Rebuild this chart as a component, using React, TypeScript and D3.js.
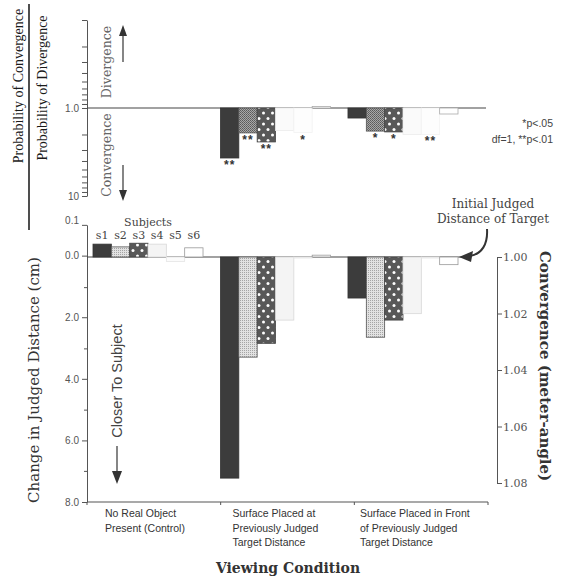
import React, { useEffect, useRef } from "react";
import * as d3 from "d3";

const subjects = ["s1", "s2", "s3", "s4", "s5", "s6"];
const conditions = ["control", "surfaceAt", "surfaceFront"];
const conditionLines = [
  ["No Real Object", "Present (Control)"],
  ["Surface Placed at", "Previously Judged", "Target Distance"],
  ["Surface Placed in Front", "of  Previously Judged", "Target Distance"],
];

// change in judged distance (cm), by condition; positive = closer to subject
const distS1 = [-0.42, 7.22, 1.34];
const distS2 = [-0.33, 3.27, 2.62];
const distS3 = [-0.45, 2.82, 2.06];
const distS4 = [-0.42, 2.06, 1.85];
const distS5 = [0.15, 0.0, 0.0];
const distS6 = [-0.3, -0.06, 0.25];

// probability of convergence / probability of divergence (no value for control)
const ratioS1 = [null, 3.7, 1.3];
const ratioS2 = [null, 1.92, 1.83];
const ratioS3 = [null, 2.43, 1.87];
const ratioS4 = [null, 1.8, 2.0];
const ratioS5 = [null, 1.9, 2.0];
const ratioS6 = [null, 0.96, 1.17];

// significance marks under the ratio bars
const starsS1 = ["", "**", ""];
const starsS2 = ["", "**", "*"];
const starsS3 = ["", "**", "*"];
const starsS4 = ["", "", ""];
const starsS5 = ["", "*", "**"];
const starsS6 = ["", "", ""];

const lowTickValues = [-1, 0, 2, 4, 6, 8];
const lowTickLabels = ["0.1", "0.0", "2.0", "4.0", "6.0", "8.0"];
const lowMinorTicks = [1, 3, 5, 7];
const topTickValues = [1, 10];
const topTickLabels = ["1.0", "10"];
const rightTickValues = [1.0, 1.02, 1.04, 1.06, 1.08];

const dist = [distS1, distS2, distS3, distS4, distS5, distS6];
const ratio = [ratioS1, ratioS2, ratioS3, ratioS4, ratioS5, ratioS6];
const stars = [starsS1, starsS2, starsS3, starsS4, starsS5, starsS6];

const SERIF = "'DejaVu Serif', serif";
const TIMES = "'Liberation Serif', serif";
const SANS = "'Liberation Sans', Arial, sans-serif";

const App = () => {
  const ref = useRef<SVGSVGElement>(null);

  useEffect(() => {
    const svg = d3.select(ref.current);
    svg.selectAll("*").remove();

    const yTop = d3.scaleLog().domain([0.1, 10]).range([20, 196]);
    const yLow = d3.scaleLinear().domain([0, 8]).range([257, 502]);
    const yRight = d3.scaleLinear().domain([1.0, 1.08]).range([257, 483]);
    const xAxisBand = d3.scaleBand().domain(conditions).range([87, 488]);
    const xGroup = d3
      .scaleBand()
      .domain(conditions)
      .range([93, 458])
      .paddingInner(0.137);
    const xSub = d3.scaleBand().domain(subjects).range([0, xGroup.bandwidth()]);

    // patterns
    const defs = svg.append("defs");
    const hatch = defs
      .append("pattern")
      .attr("id", "hatchDark")
      .attr("width", 2)
      .attr("height", 2)
      .attr("patternUnits", "userSpaceOnUse");
    hatch.append("rect").attr("width", 2).attr("height", 2).attr("fill", "#a8a8a8");
    hatch.append("rect").attr("width", 1).attr("height", 1).attr("fill", "#5a5a5a");
    hatch.append("rect").attr("x", 1).attr("y", 1).attr("width", 1).attr("height", 1).attr("fill", "#6a6a6a");

    const stip = defs
      .append("pattern")
      .attr("id", "stipple")
      .attr("width", 2)
      .attr("height", 2)
      .attr("patternUnits", "userSpaceOnUse");
    stip.append("rect").attr("width", 2).attr("height", 2).attr("fill", "#e2e2e2");
    stip.append("rect").attr("width", 1).attr("height", 1).attr("fill", "#a5a5a5");

    const dots = defs
      .append("pattern")
      .attr("id", "dots")
      .attr("width", 9)
      .attr("height", 11)
      .attr("patternUnits", "userSpaceOnUse");
    dots.append("rect").attr("width", 9).attr("height", 11).attr("fill", "#585858");
    dots.append("circle").attr("cx", 2.5).attr("cy", 3).attr("r", 1.5).attr("fill", "#fff");
    dots.append("circle").attr("cx", 7).attr("cy", 8.5).attr("r", 1.5).attr("fill", "#fff");

    const fillTop = ["#3c3c3c", "url(#hatchDark)", "url(#dots)", "#fafafa", "#fdfdfd", "#fff"];
    const fillLow = ["#3c3c3c", "url(#stipple)", "url(#dots)", "#f4f4f4", "#fbfbfb", "#fff"];
    const strokesTop = ["#333", "#555", "#444", "#ececec", "#f2f2f2", "#aaa"];
    const strokesLow = ["#333", "#555", "#444", "#d8d8d8", "#e4e4e4", "#999"];

    const axisColor = "#555";

    // ---- upper panel: log ratio ----
    const topAxis = svg
      .append("g")
      .attr("transform", "translate(87,0)")
      .call(
        d3
          .axisLeft(yTop)
          .tickValues(yTop.ticks())
          .tickSize(5)
          .tickSizeOuter(0)
          .tickFormat((d) => {
            const i = topTickValues.indexOf(+d);
            return i >= 0 ? topTickLabels[i] : "";
          })
      );
    topAxis.select(".domain").attr("stroke", axisColor);
    topAxis.selectAll("line").attr("stroke", axisColor);
    topAxis.selectAll("text").attr("font-family", SANS).attr("font-size", 10).attr("fill", "#555");

    svg
      .append("line")
      .attr("x1", 87)
      .attr("x2", 486)
      .attr("y1", yTop(1))
      .attr("y2", yTop(1))
      .attr("stroke", "#444")
      .attr("stroke-width", 1.2);

    subjects.forEach((s, j) => {
      conditions.forEach((c, i) => {
        const v = ratio[j][i];
        if (v == null) return;
        const x = (xGroup(c) as number) + (xSub(s) as number);
        const y0 = yTop(1);
        const y1 = yTop(v);
        svg
          .append("rect")
          .attr("x", x)
          .attr("y", Math.min(y0, y1))
          .attr("width", xSub.bandwidth())
          .attr("height", Math.max(1.5, Math.abs(y1 - y0)))
          .attr("fill", fillTop[j])
          .attr("stroke", strokesTop[j])
          .attr("stroke-width", 0.8);
        const st = stars[j][i];
        if (st) {
          svg
            .append("text")
            .attr("x", x + xSub.bandwidth() / 2)
            .attr("y", Math.max(y0, y1) + 11)
            .attr("text-anchor", "middle")
            .attr("font-family", SANS)
            .attr("font-weight", "bold")
            .attr("font-size", 12)
            .attr("letter-spacing", 1)
            .attr("fill", "#333")
            .text(st);
        }
      });
    });

    svg
      .append("text")
      .attr("x", 553)
      .attr("y", 127)
      .attr("text-anchor", "end")
      .attr("font-family", SANS)
      .attr("font-size", 10.5)
      .attr("fill", "#444")
      .text("*p<.05");
    svg
      .append("text")
      .attr("x", 553)
      .attr("y", 143)
      .attr("text-anchor", "end")
      .attr("font-family", SANS)
      .attr("font-size", 10.5)
      .attr("fill", "#444")
      .text("df=1, **p<.01");

    // divergence / convergence arrows
    const arrow = (x: number, yFrom: number, yTip: number, w: number, h: number) => {
      const dir = yTip < yFrom ? 1 : -1;
      svg
        .append("line")
        .attr("x1", x)
        .attr("x2", x)
        .attr("y1", yFrom)
        .attr("y2", yTip + dir * h)
        .attr("stroke", "#444")
        .attr("stroke-width", 1.3);
      svg
        .append("path")
        .attr(
          "d",
          `M${x},${yTip} L${x - w / 2},${yTip + dir * h} L${x + w / 2},${yTip + dir * h} Z`
        )
        .attr("fill", "#333");
    };
    arrow(123, 62, 25, 8, 11);
    arrow(123, 165, 201, 8, 11);
    svg
      .append("text")
      .attr("transform", "translate(111,62) rotate(-90)")
      .attr("text-anchor", "middle")
      .attr("font-family", SERIF)
      .attr("font-size", 12.5)
      .attr("fill", "#666")
      .text("Divergence");
    svg
      .append("text")
      .attr("transform", "translate(111,155) rotate(-90)")
      .attr("text-anchor", "middle")
      .attr("font-family", SERIF)
      .attr("font-size", 12.5)
      .attr("fill", "#666")
      .text("Convergence");

    // ratio title (fraction)
    svg
      .append("text")
      .attr("transform", "translate(23,86) rotate(-90)")
      .attr("text-anchor", "middle")
      .attr("font-family", TIMES)
      .attr("font-size", 14)
      .attr("fill", "#1a1a1a")
      .text("Probability of Convergence");
    svg
      .append("line")
      .attr("x1", 29)
      .attr("x2", 29)
      .attr("y1", 4)
      .attr("y2", 230)
      .attr("stroke", "#222")
      .attr("stroke-width", 1.6);
    svg
      .append("text")
      .attr("transform", "translate(47,88) rotate(-90)")
      .attr("text-anchor", "middle")
      .attr("font-family", TIMES)
      .attr("font-size", 14)
      .attr("fill", "#1a1a1a")
      .text("Probability of Divergence");

    // ---- lower panel: change in judged distance ----
    const lowAxis = svg
      .append("g")
      .attr("transform", "translate(87,0)")
      .call(
        d3
          .axisLeft(yLow.copy().domain([-1.0, 8]).range([yLow(-1.05), 502]))
          .tickValues(lowTickValues)
          .tickSize(5)
          .tickSizeOuter(0)
          .tickFormat((d) => lowTickLabels[lowTickValues.indexOf(+d)])
      );
    lowAxis.select(".domain").attr("stroke", axisColor);
    lowAxis.selectAll("line").attr("stroke", axisColor);
    lowAxis.selectAll("text").attr("font-family", SANS).attr("font-size", 10).attr("fill", "#555");
    lowAxis.selectAll(".tick text").filter((d) => +d === -1).attr("dy", "-0.1em");

    svg
      .append("g")
      .selectAll("line")
      .data(lowMinorTicks)
      .enter()
      .append("line")
      .attr("x1", 84)
      .attr("x2", 87)
      .attr("y1", (d) => yLow(d))
      .attr("y2", (d) => yLow(d))
      .attr("stroke", axisColor);

    // bottom x axis
    const bottomY = yLow(8);
    svg
      .append("line")
      .attr("x1", 87)
      .attr("x2", 488)
      .attr("y1", bottomY)
      .attr("y2", bottomY)
      .attr("stroke", axisColor)
      .attr("stroke-width", 1.2);
    const bounds = conditions.map((c) => xAxisBand(c) as number).concat([488]);
    svg
      .append("g")
      .selectAll("line")
      .data(bounds)
      .enter()
      .append("line")
      .attr("x1", (d) => d)
      .attr("x2", (d) => d)
      .attr("y1", bottomY)
      .attr("y2", bottomY + 3)
      .attr("stroke", axisColor);

    conditions.forEach((c, i) => {
      const t = svg
        .append("text")
        .attr("font-family", SANS)
        .attr("font-size", 10.5)
        .attr("fill", "#333");
      conditionLines[i].forEach((line, k) => {
        t.append("tspan")
          .attr("x", (xGroup(c) as number) + 12)
          .attr("y", 517 + k * 14.5)
          .text(line);
      });
    });

    // zero line with arrow
    svg
      .append("line")
      .attr("x1", 87)
      .attr("x2", 466)
      .attr("y1", yLow(0))
      .attr("y2", yLow(0))
      .attr("stroke", "#444")
      .attr("stroke-width", 1.2);

    subjects.forEach((s, j) => {
      conditions.forEach((c, i) => {
        const v = dist[j][i];
        const x = (xGroup(c) as number) + (xSub(s) as number);
        const y0 = yLow(0);
        const y1 = yLow(v);
        svg
          .append("rect")
          .attr("x", x)
          .attr("y", Math.min(y0, y1))
          .attr("width", xSub.bandwidth())
          .attr("height", Math.max(1, Math.abs(y1 - y0)))
          .attr("fill", fillLow[j])
          .attr("stroke", strokesLow[j])
          .attr("stroke-width", 0.8);
      });
    });

    // subject legend over control group
    svg
      .append("text")
      .attr("x", (xGroup("control") as number) + xGroup.bandwidth() / 2)
      .attr("y", 226)
      .attr("text-anchor", "middle")
      .attr("font-family", SERIF)
      .attr("font-size", 11)
      .attr("fill", "#444")
      .text("Subjects");
    svg
      .append("g")
      .selectAll("text")
      .data(subjects)
      .enter()
      .append("text")
      .attr("x", (d) => (xGroup("control") as number) + (xSub(d) as number) + xSub.bandwidth() / 2)
      .attr("y", 239)
      .attr("text-anchor", "middle")
      .attr("font-family", SERIF)
      .attr("font-size", 11)
      .attr("fill", "#444")
      .text((d) => d);

    // Closer to subject
    svg
      .append("text")
      .attr("transform", "translate(122,381) rotate(-90)")
      .attr("text-anchor", "middle")
      .attr("font-family", SANS)
      .attr("font-size", 14.5)
      .attr("fill", "#444")
      .text("Closer To Subject");
    arrow(117, 446, 484, 10, 13);

    // initial judged distance annotation
    svg
      .append("text")
      .attr("x", 493)
      .attr("y", 208)
      .attr("text-anchor", "middle")
      .attr("font-family", SERIF)
      .attr("font-size", 12)
      .attr("fill", "#444")
      .text("Initial Judged");
    svg
      .append("text")
      .attr("x", 493)
      .attr("y", 223)
      .attr("text-anchor", "middle")
      .attr("font-family", SERIF)
      .attr("font-size", 12)
      .attr("fill", "#444")
      .text("Distance of Target");
    svg
      .append("path")
      .attr("d", "M487,229 C488,244 482,254 470,256")
      .attr("fill", "none")
      .attr("stroke", "#333")
      .attr("stroke-width", 2);
    svg
      .append("path")
      .attr("d", "M459,257 L473,251 L471,262 Z")
      .attr("fill", "#333");

    // right convergence axis
    const rightAxis = svg
      .append("g")
      .attr("transform", "translate(497,0)")
      .call(
        d3
          .axisRight(yRight)
          .tickValues(rightTickValues)
          .tickSize(5)
          .tickSizeOuter(0)
          .tickFormat(d3.format(".2f"))
      );
    rightAxis.select(".domain").attr("stroke", axisColor);
    rightAxis.selectAll("line").attr("stroke", axisColor);
    rightAxis
      .selectAll("text")
      .attr("font-family", SERIF)
      .attr("font-size", 11)
      .attr("fill", "#555")
      .attr("x", 6);

    // axis titles
    svg
      .append("text")
      .attr("transform", "translate(39,380) rotate(-90)")
      .attr("text-anchor", "middle")
      .attr("font-family", SERIF)
      .attr("font-size", 15)
      .attr("fill", "#333")
      .text("Change in Judged Distance (cm)");
    svg
      .append("text")
      .attr("transform", "translate(540,366) rotate(90)")
      .attr("text-anchor", "middle")
      .attr("font-family", SERIF)
      .attr("font-weight", "bold")
      .attr("font-size", 15)
      .attr("fill", "#333")
      .text("Convergence (meter-angle)");
    svg
      .append("text")
      .attr("x", 288)
      .attr("y", 573)
      .attr("text-anchor", "middle")
      .attr("font-family", SERIF)
      .attr("font-weight", "bold")
      .attr("font-size", 14)
      .attr("fill", "#333")
      .text("Viewing Condition");
  }, []);

  return (
    <svg
      ref={ref}
      width={563}
      height={578}
      style={{ position: "absolute", left: 0, top: 0, background: "#fff" }}
    ></svg>
  );
};

export default App;
